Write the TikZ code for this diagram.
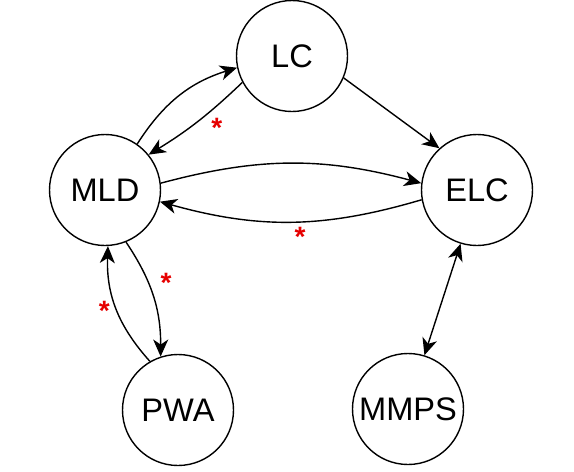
\documentclass[tikz,border=0pt]{standalone}
\usepackage{fontspec}
\setmainfont{Liberation Sans}
\usetikzlibrary{arrows.meta}
\definecolor{starred}{RGB}{230,0,0}

\begin{document}
\begin{tikzpicture}[
    x=0.5pt, y=-0.5pt,
    >={Stealth[length=8.5pt,width=7.5pt,inset=2.5pt]},
    state/.style={circle,draw,line width=0.7pt,minimum size=55.5pt,inner sep=0pt,font=\fontsize{16.3}{19}\selectfont},
    link/.style={->,line width=0.7pt},
    redstar/.style={text=starred,font=\fontsize{14}{16}\selectfont\bfseries,inner sep=0pt},
]
    \useasboundingbox (0,0) rectangle (574,472);

    % States
    \node[state] (LC)   at (292,56)  {LC};
    \node[state] (MLD)  at (105,190) {MLD};
    \node[state] (ELC)  at (477,190) {ELC};
    \node[state] (PWA)  at (178,410) {PWA};
    \node[state] (MMPS) at (408,409) {MMPS};

    % Transitions
    \draw[link] (MLD.55) to[bend left=20] (LC.192);
    \draw[link] (LC.208) to[bend left=6] node[redstar,pos=0.5,xshift=9.5pt,yshift=-3pt] {*} (MLD.39);
    \draw[link] (LC.-23) -- (ELC.132);

    \draw[link] (MLD.7) to[bend left=15] (ELC.173);
    \draw[link] (ELC.190) to[bend left=16] node[redstar,pos=0.5,xshift=4.5pt,yshift=-7.5pt] {*} (MLD.348);

    \draw[link] (MLD.292) to[bend left=17] node[redstar,pos=0.5,xshift=6.5pt,yshift=7pt] {*} (PWA.108);
    \draw[link] (PWA.120) to[bend left=22] node[redstar,pos=0.5,xshift=-6pt,yshift=-1.5pt] {*} (MLD.273);

    \draw[link,<->] (ELC.253) -- (MMPS.73);

\end{tikzpicture}
\end{document}
